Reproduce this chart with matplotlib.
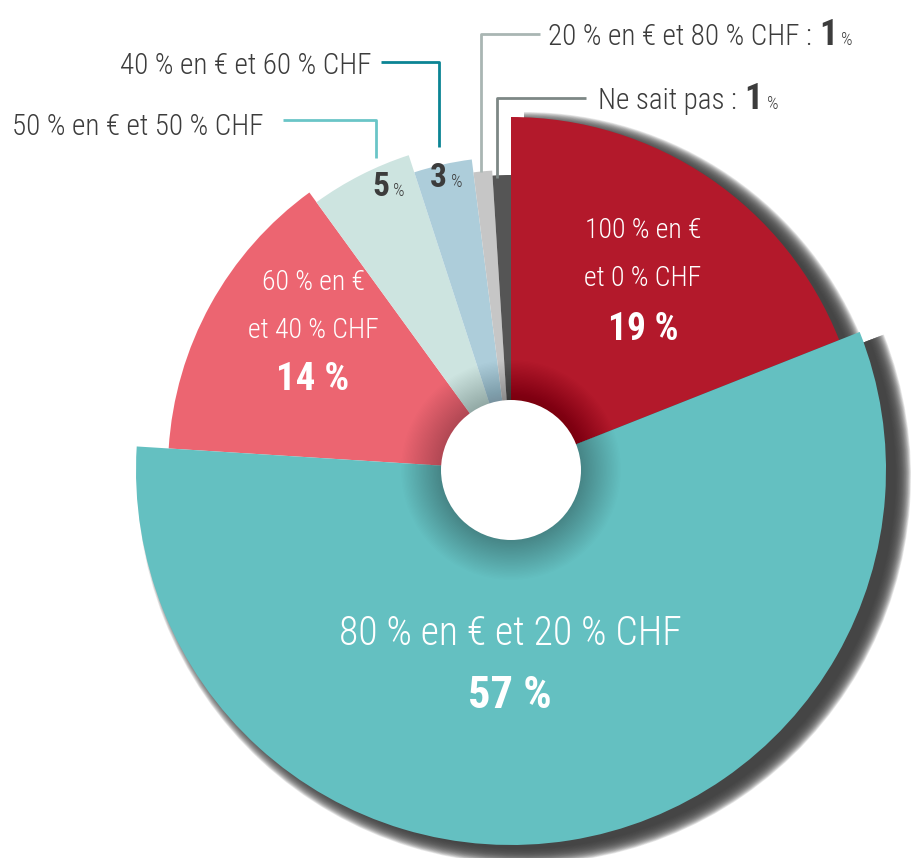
import numpy as np
import matplotlib
matplotlib.use('Agg')
import matplotlib.pyplot as plt
from matplotlib.patches import Wedge, Circle

# ── Données ──────────────────────────────────────────────────────────────────
categories = ['100 % en € et 0 % CHF', '80 % en € et 20 % CHF',
              '60 % en € et 40 % CHF', '50 % en € et 50 % CHF',
              '40 % en € et 60 % CHF', '20 % en € et 80 % CHF',
              'Ne sait pas']
shares = [19, 57, 14, 5, 3, 1, 1]

# ── Style ────────────────────────────────────────────────────────────────────
colors = ['#B3192B', '#64C0C1', '#EC6571', '#CDE4E0', '#ADCDDA', '#C6C6C6', '#555555']
radii = [353, 375, 343, 331, 313, 300, 295]
shadowed = [True, True, False, False, False, False, False]
START = 90.0
CX, CY = 511, 388
HOLE_R = 70
FONT = ['Roboto Condensed', 'Roboto', 'DejaVu Sans']
DARK = '#3C3C3C'

W, H = 914, 858
fig = plt.figure(figsize=(W / 100, H / 100), dpi=100)
ax = fig.add_axes([0, 0, 1, 1])
ax.set_xlim(0, W)
ax.set_ylim(0, H)
ax.axis('off')


def Y(y_top):
    """coordonnée verticale mesurée depuis le haut"""
    return H - y_top


# angles des parts, sens horaire à partir du haut
bounds = START - np.concatenate([[0], np.cumsum(shares)]) * 3.6

# ombres portées (floues) sous les grandes parts
for i, v in enumerate(shares):
    if not shadowed[i]:
        continue
    a1, a0 = bounds[i], bounds[i + 1]
    n = 24
    for k in range(n):
        grow = 16 * (1 - k / (n - 1)) - 4
        ax.add_patch(Wedge((CX + 13, CY - 7), radii[i] + grow, a0 - 0.6, a1,
                           color='#404040', alpha=0.12, lw=0, zorder=1))

for i, v in enumerate(shares):
    a1, a0 = bounds[i], bounds[i + 1]
    ax.add_patch(Wedge((CX, CY), radii[i], a0, a1, color=colors[i], lw=0,
                       zorder=2 + (1 if i == 1 else 0)))

# léger assombrissement autour du trou central
for r in np.linspace(HOLE_R + 40, HOLE_R, 30):
    ax.add_patch(Circle((CX, CY), r, color='black', alpha=0.006, lw=0, zorder=4))
ax.add_patch(Circle((CX, CY), HOLE_R, color='white', lw=0, zorder=5))

# ── Étiquettes internes ──────────────────────────────────────────────────────
def inner(x, y, txt, size, bold=False):
    ax.text(x, Y(y), txt, ha='center', va='center', color='white',
            fontsize=size, family=FONT, fontweight='bold' if bold else 'light',
            zorder=6)


inner(643, 230, '100 % en €', 20)
inner(643, 278, 'et 0 % CHF', 20)
inner(643, 329, f'{shares[0]} %', 27, True)

inner(313, 282, '60 % en €', 20)
inner(313, 330, 'et 40 % CHF', 20)
inner(313, 380, f'{shares[2]} %', 28, True)

inner(510, 634, '80 % en € et 20 % CHF', 28.5)
inner(510, 696, f'{shares[1]} %', 32, True)

fig.canvas.draw()
renderer = fig.canvas.get_renderer()


def pct(x, y, num, size_num, size_pct, color=DARK):
    """nombre en gras suivi d'un petit signe %"""
    t = ax.text(x, Y(y), str(num), ha='left', va='baseline', color=color,
                fontsize=size_num, family=FONT, fontweight='bold', zorder=6)
    bb = t.get_window_extent(renderer)
    ax.text(bb.x1 + 4, Y(y), '%', ha='left', va='baseline', color=color,
            fontsize=size_pct, family=FONT, fontweight='light', zorder=6)


pct(372, 196, shares[3], 24, 13)
pct(430, 187, shares[4], 24, 13)

# ── Étiquettes externes avec traits de rappel ────────────────────────────────
def leader(pts, color):
    xs = [p[0] for p in pts]
    ys = [Y(p[1]) for p in pts]
    ax.plot(xs, ys, color=color, lw=2, solid_capstyle='butt', zorder=6)


def outer(x, y, txt):
    return ax.text(x, Y(y), txt, ha='left', va='baseline', color=DARK,
                   fontsize=21, family=FONT, fontweight='light')


leader([(283, 120), (376, 120), (376, 158)], '#6AC5C7')
outer(12, 135, categories[3])

leader([(381, 62), (439, 62), (439, 147)], '#0B8494')
outer(120, 74, categories[4])

leader([(540, 34), (481, 34), (481, 172)], '#A9B6B3')
t = outer(548, 45, categories[5] + ' : ')
pct(t.get_window_extent(renderer).x1 + 1, 45, shares[5], 26, 13)

leader([(586, 98), (497, 98), (497, 178)], '#7D8785')
t = outer(598, 109, categories[6] + ' : ')
pct(t.get_window_extent(renderer).x1 + 1, 109, shares[6], 26, 13)

fig.savefig('out.png', dpi=100)
